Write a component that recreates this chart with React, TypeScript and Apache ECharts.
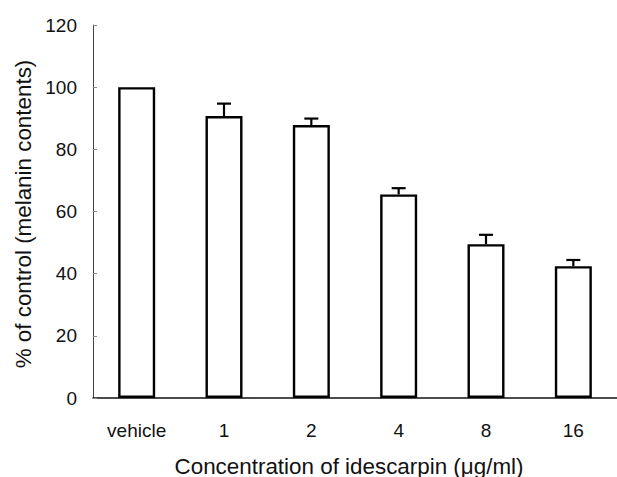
import React, { useEffect, useRef } from "react";
import * as echarts from "echarts";

const categories = ["vehicle", "1", "2", "4", "8", "16"];
const values = [100, 90.7, 87.8, 65.5, 49.5, 42.4];
const errors = [0, 4, 2.1, 2, 3, 2];
const yTicks = { min: 0, max: 120, interval: 20 };
const xAxisTitle = "Concentration of idescarpin (\u03bcg/ml)";
const yAxisTitle = "% of control (melanin contents)";

const FONT = "'Liberation Sans', Arial, sans-serif";

export default function App() {
  const ref = useRef<HTMLDivElement>(null);
  useEffect(() => {
    if (!ref.current) return;
    const chart = echarts.init(ref.current, undefined, { renderer: "svg" });
    chart.setOption({
      animation: false,
      backgroundColor: "#ffffff",
      grid: { left: 93, top: 25, width: 535, height: 373 },
      xAxis: {
        type: "category",
        data: categories,
        axisLine: { show: true, lineStyle: { color: "#111", width: 1.5 } },
        axisTick: { show: false },
        axisLabel: { color: "#111", fontSize: 19, fontFamily: FONT, margin: 23 },
        splitLine: { show: false },
      },
      yAxis: {
        type: "value",
        min: yTicks.min,
        max: yTicks.max,
        interval: yTicks.interval,
        axisLine: { show: true, lineStyle: { color: "#444", width: 1 } },
        axisTick: { show: true, inside: true, length: 4, lineStyle: { color: "#888" } },
        axisLabel: { color: "#111", fontSize: 19, fontFamily: FONT, margin: 16 },
        splitLine: { show: false },
      },
      graphic: [
        {
          type: "text",
          x: 349,
          y: 466,
          style: {
            text: xAxisTitle,
            fontSize: 22.4,
            fontFamily: FONT,
            fill: "#111",
            textAlign: "center",
            textVerticalAlign: "middle",
          },
        },
        {
          type: "text",
          x: 23,
          y: 214,
          rotation: Math.PI / 2,
          style: {
            text: yAxisTitle,
            fontSize: 22.4,
            fontFamily: FONT,
            fill: "#111",
            textAlign: "center",
            textVerticalAlign: "middle",
          },
        },
      ],
      series: [
        {
          type: "bar",
          data: values,
          barWidth: 37,
          itemStyle: { color: "#ffffff", borderColor: "#000", borderWidth: 2.4 },
          z: 3,
        },
        {
          type: "custom",
          data: categories.map((_, i) => [i, values[i], errors[i]]),
          z: 4,
          renderItem: (params: any, api: any) => {
            const x = api.value(0);
            const y = api.value(1);
            const e = api.value(2);
            if (!e) return { type: "group", children: [] };
            const base = api.coord([x, y]);
            const top = api.coord([x, y + e]);
            const style = { stroke: "#000", lineWidth: 2.2 };
            return {
              type: "group",
              children: [
                { type: "line", shape: { x1: base[0], y1: base[1], x2: top[0], y2: top[1] }, style },
                { type: "line", shape: { x1: top[0] - 7, y1: top[1], x2: top[0] + 7, y2: top[1] }, style },
              ],
            };
          },
        },
      ],
    });
    return () => chart.dispose();
  }, []);
  return <div ref={ref} style={{ width: 617, height: 477, position: "absolute", left: 0, top: 0 }} />;
}
